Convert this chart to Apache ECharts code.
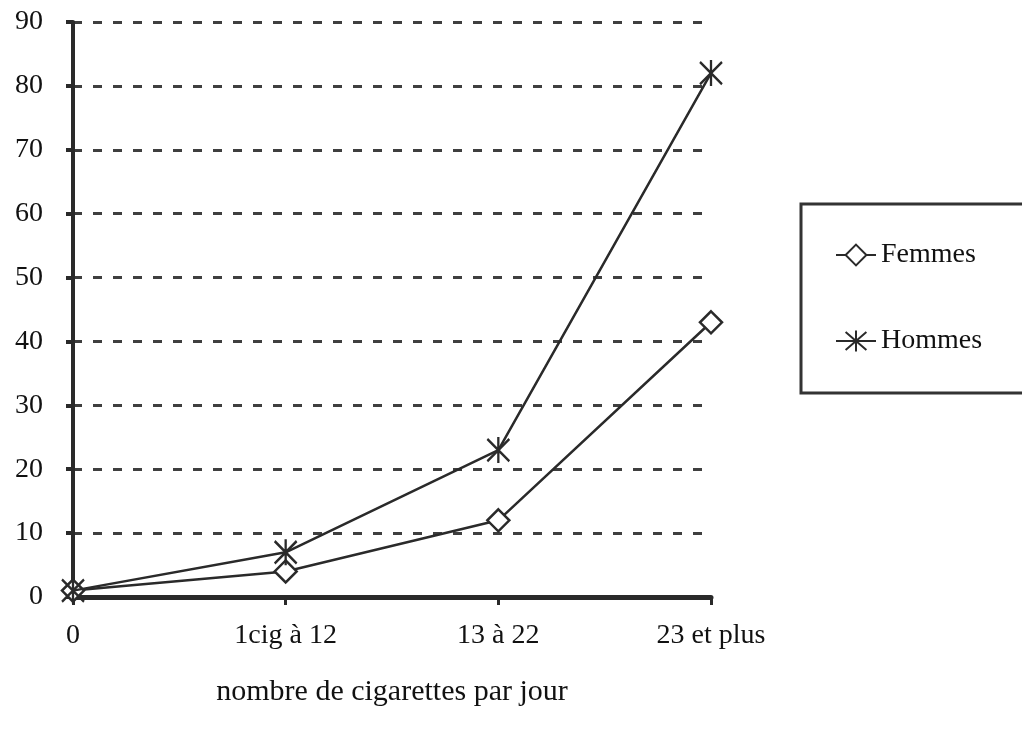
<!DOCTYPE html>
<html><head><meta charset="utf-8">
<script src="https://cdn.jsdelivr.net/npm/echarts@6/dist/echarts.min.js"></script>
<style>html,body{margin:0;padding:0;background:#fff}#c{width:1022px;height:730px}</style>
</head><body><div id="c"></div>
<script>
const categories = ['0', '1cig à 12', '13 à 22', '23 et plus'];
const femmes = [1, 4, 12, 43];
const hommes = [1, 7, 23, 82];
const yTicks = [0, 10, 20, 30, 40, 50, 60, 70, 80, 90];

const FONT = '"Liberation Serif", "DejaVu Serif", serif';
const INK = '#2a2a2a';
const asterisk = 'path://M0,0 L10,12 M10,0 L0,12 M5,-1 L5,13';

const chart = echarts.init(document.getElementById('c'));
chart.setOption({
  backgroundColor: '#fff',
  animation: false,
  grid: { left: 73, right: 311, top: 22, bottom: 133 },
  xAxis: {
    type: 'category',
    data: categories,
    boundaryGap: false,
    name: 'nombre de cigarettes par jour',
    nameLocation: 'middle',
    nameGap: 80,
    nameTextStyle: { fontFamily: FONT, fontSize: 30, color: '#111' },
    axisLine: { lineStyle: { color: INK, width: 5 } },
    axisTick: { show: true, alignWithLabel: true, length: 8, lineStyle: { color: INK, width: 3 } },
    axisLabel: { fontFamily: FONT, fontSize: 28, color: '#111', margin: 25 },
    splitLine: { show: false }
  },
  yAxis: {
    type: 'value',
    min: yTicks[0],
    max: yTicks[yTicks.length - 1],
    interval: 10,
    axisLine: { show: true, lineStyle: { color: INK, width: 4 } },
    axisTick: { show: true, length: 7, lineStyle: { color: INK, width: 4 } },
    axisLabel: { fontFamily: FONT, fontSize: 28, color: '#111', margin: 30 },
    splitLine: { show: true, lineStyle: { color: '#3f3f3f', width: 3, type: [9, 11] } }
  },
  legend: {
    orient: 'vertical',
    left: 830,
    top: 236,
    itemGap: 58,
    itemWidth: 40,
    itemHeight: 26,
    textStyle: { fontFamily: FONT, fontSize: 28, color: '#111' },
    data: ['Femmes', 'Hommes']
  },
  graphic: [{
    type: 'rect',
    shape: { x: 801, y: 204, width: 260, height: 189 },
    style: { fill: 'none', stroke: '#333', lineWidth: 3 },
    z: 100
  }],
  series: [
    {
      name: 'Femmes',
      type: 'line',
      data: femmes,
      symbol: 'diamond',
      symbolSize: [22, 22],
      showSymbol: true,
      lineStyle: { color: INK, width: 2.5 },
      itemStyle: { color: '#fff', borderColor: INK, borderWidth: 2.5 },
      z: 3
    },
    {
      name: 'Hommes',
      type: 'line',
      data: hommes,
      symbol: asterisk,
      symbolSize: [22, 26],
      showSymbol: true,
      lineStyle: { color: INK, width: 2.5 },
      itemStyle: { color: 'none', borderColor: INK, borderWidth: 2.5 },
      z: 4
    }
  ]
});
</script></body></html>
